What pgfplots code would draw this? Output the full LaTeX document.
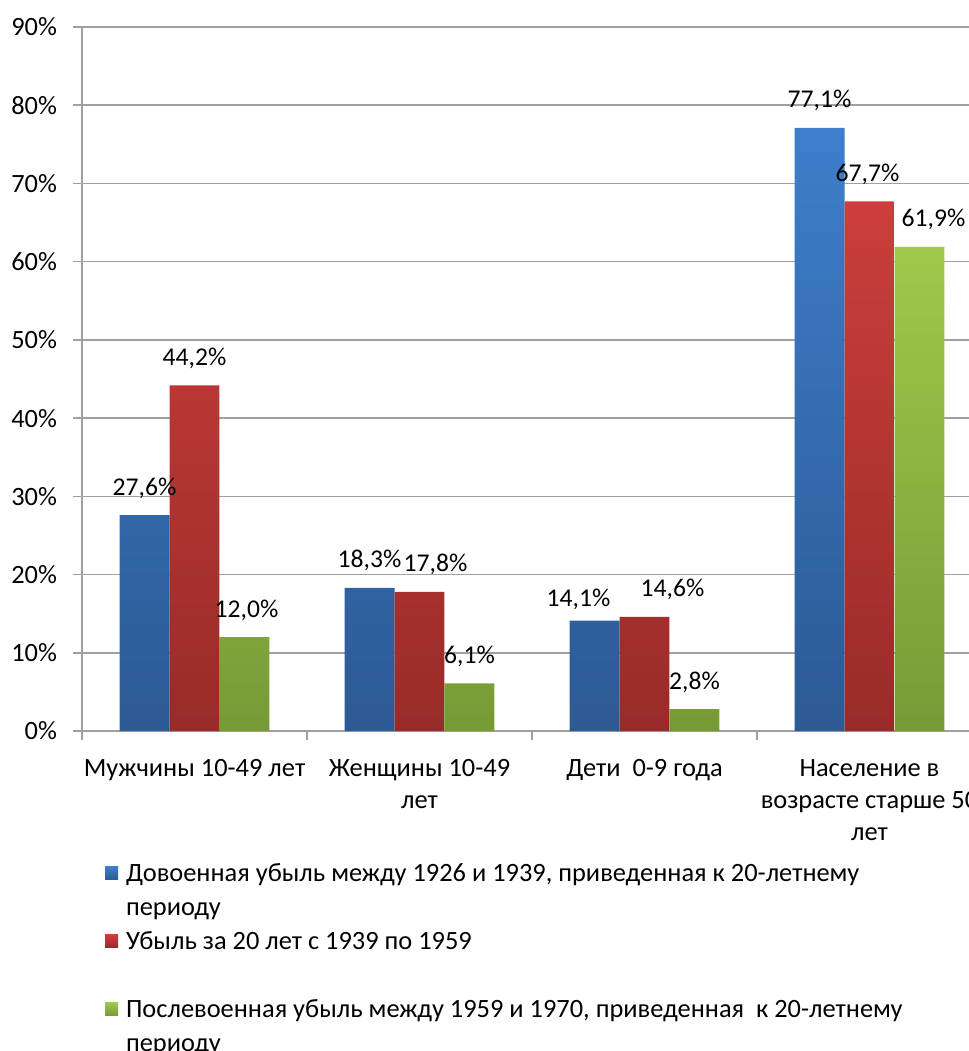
\documentclass[border=0pt]{standalone}
\usepackage{fontspec}
\setmainfont{Carlito}
\usepackage{pgfplots}
\usepackage{pgfplotstable}
\pgfplotsset{compat=1.18}
\definecolor{gridgray}{HTML}{A0A0A0}
\definecolor{bluetop}{HTML}{3E7ECB}
\definecolor{bluebot}{HTML}{2C5A94}
\definecolor{redtop}{HTML}{CC3E3B}
\definecolor{redbot}{HTML}{982B29}
\definecolor{greentop}{HTML}{A0C84A}
\definecolor{greenbot}{HTML}{789A36}
\newcommand{\lines}[2][c]{\begin{tabular}[t]{@{}#1@{}}#2\end{tabular}}
% x = category, y = value (%), dx/dy = label offsets (pt)
\pgfplotstableread{
x y dx dy
0 27.6 0 0
1 18.3 0 0
2 14.1 -8 -3
3 77.1 0 0
}\prewar
\pgfplotstableread{
x y dx dy
0 44.2 0 0
1 17.8 8 0
2 14.6 14 0
3 67.7 -1 0
}\war
\pgfplotstableread{
x y dx dy
0 12.0 1 0
1 6.1 0 0
2 2.8 0 0
3 61.9 7 0
}\postwar
\begin{document}
\begin{tikzpicture}[font=\fontsize{13.2}{16}\selectfont]
\path[use as bounding box] (0,0) rectangle (484.5pt,-525.5pt);
\begin{axis}[
  at={(41pt,-365.5pt)}, anchor=south west,
  scale only axis, width=450pt, height=352pt,
  ybar=0pt, bar width=0.2222,
  xmin=-0.5, xmax=3.5, ymin=0, ymax=90,
  axis lines=left,
  axis line style={-, draw=gridgray, line width=0.8pt},
  ytick={0,10,...,90},
  yticklabel={\pgfmathprintnumber{\tick}\%},
  /pgf/number format/assume math mode=true,
  yticklabel style={xshift=-4.5pt, text=black},
  ymajorgrids, grid style={draw=gridgray, line width=0.8pt},
  tick align=outside, major tick length=4.5pt,
  ytick style={draw=gridgray, line width=0.8pt},
  xtick={0,1,2,3},
  xticklabels={{\lines{Мужчины 10-49 лет}},{\lines{Женщины 10-49\\лет}},{\lines{Дети\ \ 0-9 года}},{\lines{Население в\\возрасте старше 50\\лет}}},
  xticklabel style={anchor=north, inner sep=0pt, yshift=-6.8pt, text=black},
  xtick style={draw=none},
  extra x ticks={-0.5,0.5,1.5,2.5},
  extra x tick labels={},
  extra x tick style={xtick style={draw=gridgray, line width=0.8pt}, grid=none},
  visualization depends on={\thisrow{dx}\as\labdx},
  visualization depends on={\thisrow{dy}\as\labdy},
  nodes near coords={\pgfmathprintnumber[fixed,fixed zerofill,precision=1,use comma]{\pgfplotspointmeta}\%},
  every node near coord/.append style={anchor=base, yshift=10pt, xshift=\labdx pt, yshift=\labdy pt, text=black, font=\fontsize{12.8}{15}\selectfont},
  legend image code/.code={\fill[#1] (0pt,0.8pt) rectangle (6.5pt,7.3pt);},
  legend style={at={(axis description cs:0.0256,-0.1760)}, anchor=north west,
    draw=none, fill=none, inner sep=0pt, outer sep=0pt, row sep=0.3pt, column sep=2pt,
    cells={anchor=base west, inner sep=0pt}},
]
\addplot[draw=none, top color=bluetop, bottom color=bluebot] table[x=x, y=y] {\prewar};
\addlegendentry{\lines[l]{Довоенная убыль между 1926 и 1939, приведенная к 20-летнему}}
\addlegendimage{empty legend}
\addlegendentry{\lines[l]{периоду}}
\addplot[draw=none, top color=redtop, bottom color=redbot] table[x=x, y=y] {\war};
\addlegendentry{\lines[l]{Убыль за 20 лет с 1939 по 1959}}
\addlegendimage{empty legend}
\addlegendentry{\lines[l]{\mbox{}}}
\addplot[draw=none, top color=greentop, bottom color=greenbot] table[x=x, y=y] {\postwar};
\addlegendentry{\lines[l]{Послевоенная убыль между 1959 и 1970, приведенная\ \ к 20-летнему}}
\addlegendimage{empty legend}
\addlegendentry{\lines[l]{периоду}}
\end{axis}
\end{tikzpicture}
\end{document}
